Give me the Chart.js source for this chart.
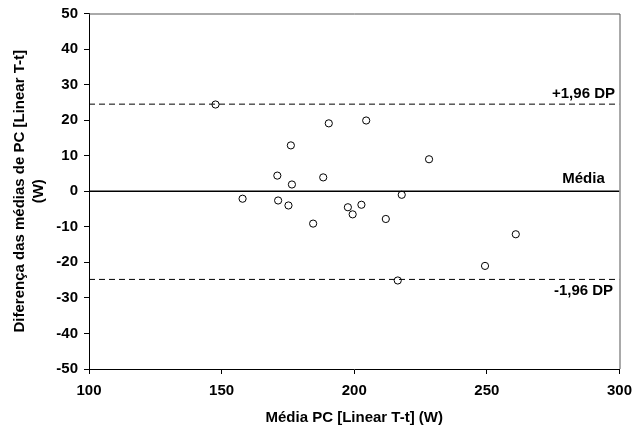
<!DOCTYPE html>
<html>
<head>
<meta charset="utf-8">
<script src="https://cdn.jsdelivr.net/npm/chart.js@4/dist/chart.umd.min.js"></script>
<style>
    html, body { margin: 0; padding: 0; background: #fff; }
    #wrap { width: 634px; height: 433px; }
</style>
</head>
<body>
<div id="wrap"><canvas id="bland_altman_chart" width="634" height="433"></canvas></div>
<script>
// mean of the two methods (x) and difference between them (y)
const mean_pc_x = [147.7, 190.4, 176.1, 171.0, 176.5, 188.3, 204.5, 228.2, 217.9, 157.9,
                   171.3, 175.2, 184.5, 197.6, 199.4, 202.7, 211.9, 260.9, 249.3, 216.4];
const diff_pc_y = [24.4, 19.1, 12.9, 4.4, 1.9, 3.9, 19.9, 9.0, -1.0, -2.1,
                   -2.6, -4.0, -9.1, -4.5, -6.5, -3.8, -7.8, -12.1, -21.0, -25.1];

// reference lines
const x_range = [100, 300];
const upper_limit = 24.5;
const mean_diff = 0;
const lower_limit = -24.8;
const limit_labels = ["+1,96 DP", "Média", "-1,96 DP"];

const points = mean_pc_x.map((x, i) => ({ x: x, y: diff_pc_y[i] }));
const hline = (v) => x_range.map((x) => ({ x: x, y: v }));

const font_main = "'Liberation Sans', Arial, Helvetica, sans-serif";

// box round the plot area and the labels of the reference lines
const box_and_labels =
{
    id: "box_and_labels",
    afterDraw(chart)
    {
        const ctx = chart.ctx;
        const area = chart.chartArea;
        const y = chart.scales.y;
        ctx.save();
        ctx.strokeStyle = "#555";
        ctx.lineWidth = 1;
        ctx.beginPath();
        ctx.moveTo(area.left, area.top + 0.5);
        ctx.lineTo(area.right + 0.5, area.top + 0.5);
        ctx.lineTo(area.right + 0.5, area.bottom);
        ctx.stroke();

        ctx.fillStyle = "#000";
        ctx.font = "bold 15px " + font_main;
        ctx.textAlign = "center";
        ctx.textBaseline = "middle";
        const cx = area.right - 36;
        ctx.fillText(limit_labels[0], cx, y.getPixelForValue(upper_limit) - 10);
        ctx.fillText(limit_labels[1], cx, y.getPixelForValue(mean_diff) - 12);
        ctx.fillText(limit_labels[2], cx, y.getPixelForValue(lower_limit) + 11);
        ctx.restore();
    }
};

const bland_altman_chart = new Chart("bland_altman_chart",
{
    type: "scatter",
    data:
    {
        datasets:
        [
            {
                label: "Diferença",
                data: points,
                pointRadius: 3.6,
                pointBorderWidth: 1,
                borderColor: "#000",
                backgroundColor: "rgba(0,0,0,0)",
                pointHoverRadius: 3.6,
                order: 0
            },
            {
                type: "line",
                data: hline(upper_limit),
                borderColor: "#000",
                borderWidth: 1,
                borderDash: [6, 4],
                pointRadius: 0,
                order: 1
            },
            {
                type: "line",
                data: hline(mean_diff),
                borderColor: "#000",
                borderWidth: 1.5,
                pointRadius: 0,
                order: 1
            },
            {
                type: "line",
                data: hline(lower_limit),
                borderColor: "#000",
                borderWidth: 1,
                borderDash: [6, 4],
                pointRadius: 0,
                order: 1
            }
        ]
    },
    options:
    {
        responsive: false,
        animation: false,
        layout:
        {
            padding: { left: 0, top: 13.5, right: 14.5, bottom: 0 }
        },
        plugins:
        {
            legend: { display: false },
            tooltip: { enabled: false }
        },
        scales:
        {
            x:
            {
                type: "linear",
                min: 100,
                max: 300,
                afterFit: (s) => { s.height = 64; s.paddingLeft = 0; s.paddingRight = 0; },
                ticks:
                {
                    stepSize: 50,
                    color: "#000",
                    padding: 8,
                    font: { family: font_main, size: 15, weight: "bold" }
                },
                grid:
                {
                    drawOnChartArea: false,
                    drawTicks: true,
                    tickLength: 5,
                    color: "#000"
                },
                border: { color: "#000", width: 1 },
                title:
                {
                    display: true,
                    text: "Média PC [Linear T-t] (W)",
                    color: "#000",
                    padding: { top: 0, bottom: 5 },
                    font: { family: font_main, size: 15, weight: "bold", lineHeight: 1.3 }
                }
            },
            y:
            {
                type: "linear",
                min: -50,
                max: 50,
                afterFit: (s) => { s.width = 89; s.paddingTop = 0; s.paddingBottom = 0; },
                ticks:
                {
                    stepSize: 10,
                    color: "#000",
                    padding: 6,
                    font: { family: font_main, size: 15, weight: "bold" }
                },
                grid:
                {
                    drawOnChartArea: false,
                    drawTicks: true,
                    tickLength: 5,
                    color: "#000"
                },
                border: { color: "#000", width: 1 },
                title:
                {
                    display: true,
                    text: ["Diferença das médias de PC [Linear T-t]", "(W)"],
                    color: "#000",
                    padding: { top: 10, bottom: 0 },
                    font: { family: font_main, size: 15, weight: "bold", lineHeight: 1.3 }
                }
            }
        }
    },
    plugins: [box_and_labels]
});
</script>
</body>
</html>
